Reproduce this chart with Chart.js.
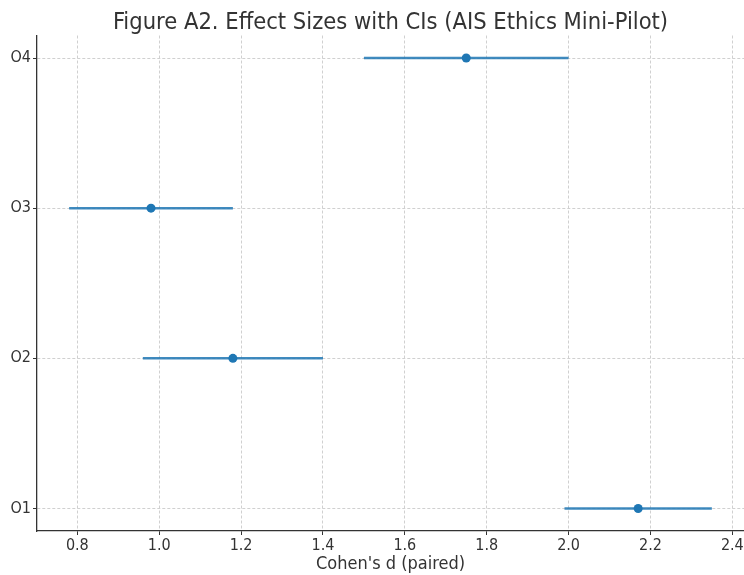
<!DOCTYPE html>
<html>
<head>
<meta charset="utf-8">
<script src="https://cdn.jsdelivr.net/npm/chart.js@4.4.1/dist/chart.umd.min.js"></script>
<style>
  html, body { margin: 0; padding: 0; background: #fff; overflow: hidden; }
  canvas { display: block; }
</style>
</head>
<body>
<canvas id="myChart" width="744" height="575"></canvas>
<script>
const outcomes = ['O1', 'O2', 'O3', 'O4'];
const effectD = [2.17, 1.18, 0.98, 1.75];
const ciLow = [1.99, 0.96, 0.78, 1.50];
const ciHigh = [2.35, 1.40, 1.18, 2.00];

const FONT = "'DejaVu Sans Condensed', 'DejaVu Sans', sans-serif";
const ink = '#333333';

const datasets = [];
for (let i = 0; i < outcomes.length; i++) {
    datasets.push({
        data: [{ x: ciLow[i], y: i }, { x: ciHigh[i], y: i }],
        showLine: true,
        pointRadius: 0,
        borderColor: 'rgba(31, 119, 180, 0.85)',
        borderWidth: 2.5,
    });
}
datasets.push({
    data: outcomes.map((o, i) => ({ x: effectD[i], y: i })),
    pointRadius: 4.5,
    pointHoverRadius: 4.5,
    backgroundColor: '#1f77b4',
    borderColor: '#1f77b4',
    borderWidth: 0,
});

const gridOpts = {
    color: '#d0d0d0',
    lineWidth: 1,
    tickColor: ink,
    tickLength: 4,
    tickWidth: 1,
};

const ctx = document.getElementById('myChart').getContext('2d');
new Chart(ctx, {
    type: 'scatter',
    data: { datasets: datasets },
    options: {
        responsive: false,
        animation: false,
        layout: { padding: 0, autoPadding: false },
        scales: {
            x: {
                type: 'linear',
                min: 0.7015,
                max: 2.4285,
                afterFit: scale => {
                    scale.height = 44;
                    scale.paddingRight = 0;
                    scale.paddingLeft = 0;
                },
                ticks: {
                    stepSize: 0.2,
                    includeBounds: false,
                    maxRotation: 0,
                    padding: 1,
                    color: ink,
                    font: { family: FONT, size: 16 },
                    callback: v => v.toFixed(1),
                },
                grid: gridOpts,
                border: { color: ink, width: 1.3, dash: [3, 2] },
                title: {
                    display: true,
                    text: "Cohen's d (paired)",
                    color: ink,
                    font: { family: FONT, size: 18, lineHeight: 1 },
                    padding: { top: 0, bottom: 1.5 },
                },
            },
            y: {
                type: 'linear',
                min: -0.15,
                max: 3.15,
                afterFit: scale => { scale.width = 37; },
                ticks: {
                    stepSize: 1,
                    includeBounds: false,
                    padding: 2,
                    color: ink,
                    font: { family: FONT, size: 16 },
                    callback: v => outcomes[v] !== undefined ? outcomes[v] : '',
                },
                grid: gridOpts,
                border: { color: ink, width: 1.3, dash: [3, 2] },
            },
        },
        plugins: {
            legend: { display: false },
            tooltip: { enabled: false },
            title: {
                display: true,
                fullSize: false,
                text: 'Figure A2. Effect Sizes with CIs (AIS Ethics Mini-Pilot)',
                color: ink,
                font: { family: FONT, size: 23.5, weight: 'normal', lineHeight: 1 },
                padding: { top: 11, bottom: 1 },
            },
        },
    },
});
</script>
</body>
</html>
